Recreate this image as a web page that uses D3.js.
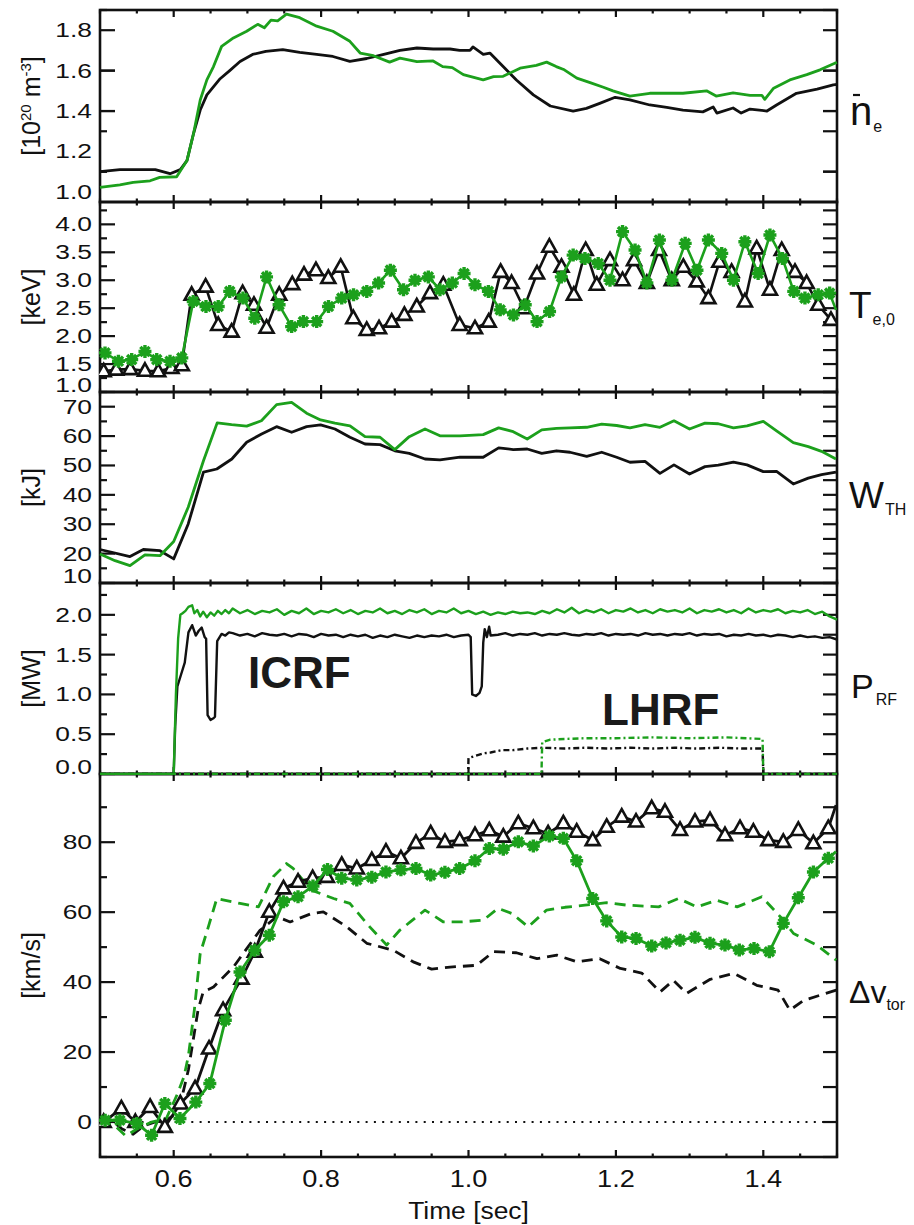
<!DOCTYPE html>
<html>
<head>
<meta charset="utf-8">
<script src="https://cdn.jsdelivr.net/npm/d3@7"></script>
<style>
  body { margin: 0; background: #fff; }
  svg { display: block; }
  text { font-family: "Liberation Sans", Arial, sans-serif; fill: #111; }
</style>
</head>
<body>
<div id="graf"></div>
<script>
// ---- Datos (tiempo [s], valor) ----
const neBlack = [[0.500,1.10],[0.527,1.11],[0.550,1.11],[0.575,1.11],[0.595,1.09],[0.609,1.11],[0.618,1.155],[0.627,1.29],[0.636,1.405],[0.645,1.48],[0.663,1.56],[0.676,1.60],[0.690,1.645],[0.707,1.68],[0.725,1.695],[0.748,1.704],[0.771,1.69],[0.794,1.68],[0.816,1.67],[0.839,1.646],[0.862,1.66],[0.885,1.68],[0.907,1.70],[0.930,1.712],[0.952,1.707],[0.975,1.707],[0.988,1.70],[1.002,1.70],[1.006,1.717],[1.020,1.68],[1.029,1.687],[1.047,1.62],[1.065,1.554],[1.088,1.48],[1.111,1.425],[1.142,1.40],[1.160,1.413],[1.178,1.438],[1.199,1.468],[1.219,1.455],[1.246,1.43],[1.269,1.418],[1.291,1.405],[1.318,1.396],[1.332,1.42],[1.337,1.39],[1.359,1.415],[1.370,1.39],[1.382,1.41],[1.405,1.40],[1.418,1.43],[1.445,1.488],[1.473,1.508],[1.495,1.53],[1.500,1.532]];
const neGreen = [[0.500,1.022],[0.527,1.035],[0.545,1.047],[0.568,1.055],[0.581,1.072],[0.604,1.075],[0.618,1.155],[0.627,1.29],[0.636,1.455],[0.645,1.554],[0.654,1.62],[0.665,1.72],[0.681,1.762],[0.699,1.795],[0.714,1.829],[0.723,1.812],[0.732,1.85],[0.741,1.846],[0.753,1.88],[0.771,1.862],[0.794,1.82],[0.816,1.795],[0.839,1.745],[0.853,1.687],[0.871,1.674],[0.893,1.642],[0.907,1.662],[0.930,1.645],[0.952,1.648],[0.965,1.62],[0.978,1.615],[0.993,1.58],[1.020,1.554],[1.034,1.57],[1.047,1.572],[1.070,1.612],[1.092,1.626],[1.106,1.642],[1.119,1.62],[1.130,1.604],[1.147,1.563],[1.165,1.541],[1.183,1.518],[1.196,1.50],[1.219,1.474],[1.246,1.488],[1.291,1.488],[1.323,1.50],[1.336,1.474],[1.359,1.49],[1.382,1.478],[1.398,1.478],[1.402,1.458],[1.414,1.513],[1.436,1.554],[1.459,1.58],[1.477,1.604],[1.497,1.637],[1.500,1.64]];

const teBlack = [[0.505,1.37],[0.522,1.40],[0.541,1.41],[0.561,1.38],[0.579,1.37],[0.597,1.43],[0.611,1.48],[0.6244,2.74],[0.6433,2.886],[0.6604,2.20],[0.6786,2.08],[0.6935,2.77],[0.7089,2.56],[0.726,2.15],[0.7432,2.74],[0.7609,2.93],[0.7768,3.10],[0.793,3.18],[0.8098,3.04],[0.8266,3.24],[0.8437,2.32],[0.8619,2.11],[0.8786,2.14],[0.8958,2.26],[0.913,2.38],[0.9298,2.53],[0.9478,2.77],[0.9658,2.92],[0.988,2.20],[1.0088,2.14],[1.0274,2.26],[1.0436,3.15],[1.0585,2.95],[1.075,2.50],[1.093,3.12],[1.1097,3.60],[1.1262,3.24],[1.143,2.74],[1.159,3.54],[1.174,2.92],[1.192,3.36],[1.209,3.0],[1.2246,3.36],[1.242,2.95],[1.2585,3.54],[1.2758,3.0],[1.2915,3.24],[1.3097,2.98],[1.3255,2.68],[1.3404,3.33],[1.357,3.15],[1.375,2.62],[1.391,3.57],[1.409,2.83],[1.425,3.54],[1.443,3.15],[1.4588,2.95],[1.4745,2.56],[1.4918,2.29]];
const teGreen = [[0.5068,1.70],[0.525,1.55],[0.543,1.58],[0.561,1.725],[0.577,1.58],[0.595,1.55],[0.611,1.61],[0.6265,2.62],[0.6438,2.53],[0.6604,2.53],[0.676,2.80],[0.694,2.68],[0.710,2.32],[0.726,3.06],[0.743,2.56],[0.760,2.17],[0.776,2.26],[0.794,2.26],[0.810,2.53],[0.828,2.68],[0.844,2.74],[0.862,2.80],[0.878,2.95],[0.894,3.18],[0.9118,2.83],[0.9274,3.0],[0.9455,3.06],[0.9613,2.83],[0.978,2.95],[0.994,3.12],[1.0088,2.92],[1.027,2.80],[1.043,2.47],[1.061,2.38],[1.077,2.56],[1.093,2.26],[1.110,2.44],[1.126,3.06],[1.142,3.45],[1.158,3.39],[1.176,3.30],[1.192,3.0],[1.209,3.87],[1.226,3.54],[1.242,2.95],[1.259,3.72],[1.276,3.0],[1.294,3.66],[1.310,3.18],[1.3255,3.72],[1.3436,3.48],[1.3595,3.0],[1.375,3.69],[1.393,3.12],[1.409,3.81],[1.426,3.39],[1.4413,2.80],[1.4565,2.68],[1.4745,2.74],[1.490,2.77],[1.4986,2.47]];

const wBlack = [[0.5,21.4],[0.5407,19.0],[0.5588,21.4],[0.5814,21.0],[0.600,18.2],[0.6197,30.1],[0.6404,47.7],[0.6585,48.8],[0.6789,52.2],[0.699,57.9],[0.7193,60.7],[0.7396,63.2],[0.760,61.3],[0.7803,63.2],[0.7993,63.8],[0.8188,62.4],[0.8392,59.6],[0.8596,57.3],[0.880,57.1],[0.900,55.0],[0.9196,54.1],[0.941,52.2],[0.9613,51.9],[0.9885,52.8],[1.0199,52.8],[1.0409,56.0],[1.0607,55.4],[1.0797,55.6],[1.0994,54.1],[1.1194,55.0],[1.1377,54.5],[1.1604,53.1],[1.1807,54.5],[1.201,52.8],[1.2191,51.1],[1.2395,51.4],[1.2598,47.3],[1.2788,50.2],[1.2999,47.1],[1.3209,49.6],[1.3389,50.1],[1.3595,51.1],[1.3779,50.2],[1.400,47.9],[1.418,48.0],[1.4407,43.7],[1.461,45.7],[1.479,46.9],[1.4986,47.7]];
const wGreen = [[0.5,19.9],[0.5204,17.6],[0.5407,15.9],[0.561,19.6],[0.5814,19.3],[0.600,24.1],[0.6197,35.8],[0.6404,51.6],[0.659,64.5],[0.6786,63.9],[0.699,63.4],[0.719,65.2],[0.7396,70.7],[0.760,71.5],[0.7803,67.8],[0.7993,65.5],[0.8188,64.4],[0.8392,63.5],[0.8596,59.8],[0.880,59.6],[0.900,55.4],[0.9196,59.8],[0.941,62.4],[0.9613,60.1],[0.9885,60.1],[1.0199,60.5],[1.0409,62.8],[1.0607,61.5],[1.0797,59.0],[1.0994,62.1],[1.1194,62.6],[1.1377,62.8],[1.1604,63.0],[1.1807,64.1],[1.201,63.6],[1.2191,62.8],[1.2395,63.9],[1.2598,63.0],[1.2788,65.2],[1.2999,62.4],[1.3209,64.4],[1.3389,64.2],[1.3595,62.8],[1.3779,63.5],[1.400,65.0],[1.418,61.8],[1.4407,57.8],[1.461,56.4],[1.479,54.8],[1.4986,52.2]];

const icrfBlack = [[0.5,0],[0.600,0],[0.602,0.6],[0.605,1.1],[0.610,1.25],[0.615,1.40],[0.620,1.78],[0.625,1.87],[0.630,1.74],[0.634,1.80],[0.638,1.84],[0.642,1.72],[0.644,1.70],[0.646,0.74],[0.650,0.68],[0.654,0.70],[0.656,0.72],[0.659,1.67],[0.665,1.76],[0.670,1.74],[0.675,1.78],
  [0.68,1.77],[0.69,1.74],[0.70,1.76],[0.71,1.73],[0.72,1.77],[0.73,1.75],[0.74,1.74],[0.75,1.76],[0.76,1.73],[0.77,1.76],[0.78,1.75],[0.79,1.72],[0.80,1.76],[0.81,1.74],[0.82,1.75],[0.83,1.72],[0.84,1.75],[0.85,1.73],[0.86,1.75],[0.87,1.71],[0.88,1.74],[0.89,1.72],[0.90,1.75],[0.91,1.73],[0.92,1.71],[0.93,1.74],[0.94,1.72],[0.95,1.74],[0.96,1.73],[0.97,1.75],[0.98,1.72],[0.99,1.74],
  [1.000,1.75],[1.003,1.72],[1.005,1.00],[1.010,0.98],[1.015,1.02],[1.018,1.10],[1.020,1.65],[1.022,1.82],[1.025,1.72],[1.028,1.85],[1.030,1.74],
  [1.04,1.75],[1.05,1.77],[1.06,1.74],[1.07,1.76],[1.08,1.75],[1.09,1.77],[1.10,1.74],[1.11,1.76],[1.12,1.75],[1.13,1.77],[1.14,1.75],[1.15,1.74],[1.16,1.76],[1.17,1.75],[1.18,1.77],[1.19,1.74],[1.20,1.76],[1.21,1.75],[1.22,1.76],[1.23,1.74],[1.24,1.77],[1.25,1.75],[1.26,1.76],[1.27,1.74],[1.28,1.76],[1.29,1.75],[1.30,1.77],[1.31,1.74],[1.32,1.76],[1.33,1.75],[1.34,1.76],[1.35,1.73],[1.36,1.75],[1.37,1.74],[1.38,1.76],[1.39,1.74],[1.40,1.75],[1.41,1.73],[1.42,1.75],[1.43,1.74],[1.44,1.72],[1.45,1.74],[1.46,1.72],[1.47,1.73],[1.48,1.71],[1.49,1.72],[1.50,1.69]];
const icrfGreen = [[0.5,0],[0.600,0],[0.603,1.0],[0.606,1.7],[0.609,2.0],[0.612,2.02],[0.616,2.05],[0.620,2.10],[0.625,2.12],[0.628,2.02],[0.632,2.06],[0.636,1.98],[0.640,2.04],[0.645,1.97],[0.650,2.03],[0.655,1.99],[0.660,2.05],[0.665,2.01],[0.670,2.06],[0.675,2.02],
  [0.68,2.08],[0.69,2.02],[0.70,2.06],[0.71,2.01],[0.72,2.05],[0.73,2.03],[0.74,2.07],[0.75,2.00],[0.76,2.05],[0.77,2.02],[0.78,2.08],[0.79,2.01],[0.80,2.05],[0.81,2.03],[0.82,2.07],[0.83,2.02],[0.84,2.06],[0.85,2.01],[0.86,2.05],[0.87,2.03],[0.88,2.08],[0.89,2.02],[0.90,2.05],[0.91,2.01],[0.92,2.06],[0.93,2.03],[0.94,2.07],[0.95,2.01],[0.96,2.05],[0.97,2.03],[0.98,2.08],[0.99,2.02],
  [1.00,2.05],[1.01,2.01],[1.02,2.04],[1.03,2.00],[1.04,2.03],[1.05,2.01],[1.06,2.04],[1.07,2.02],[1.08,2.03],[1.09,2.01],[1.10,2.05],[1.11,2.02],[1.12,2.07],[1.13,2.03],[1.14,2.09],[1.15,2.02],[1.16,2.06],[1.17,2.03],[1.18,2.07],[1.19,2.02],[1.20,2.06],[1.21,2.04],[1.22,2.08],[1.23,2.03],[1.24,2.06],[1.25,2.02],[1.26,2.07],[1.27,2.04],[1.28,2.06],[1.29,2.03],[1.30,2.08],[1.31,2.02],[1.32,2.06],[1.33,2.04],[1.34,2.07],[1.35,2.03],[1.36,2.06],[1.37,2.02],[1.38,2.08],[1.39,2.03],[1.40,2.06],[1.41,2.04],[1.42,2.07],[1.43,2.02],[1.44,2.05],[1.45,2.03],[1.46,2.06],[1.47,2.01],[1.48,2.04],[1.49,1.98],[1.50,1.94]];
const lhrfBlack = [[0.5,0],[0.9995,0],[1.000,0.20],[1.01,0.23],[1.02,0.26],[1.03,0.27],[1.045,0.30],[1.06,0.30],[1.08,0.32],[1.10,0.33],[1.13,0.32],[1.16,0.33],[1.19,0.32],[1.22,0.33],[1.25,0.32],[1.28,0.33],[1.31,0.32],[1.34,0.33],[1.37,0.32],[1.399,0.32],[1.400,0],[1.5,0]];
const lhrfGreen = [[0.5,0],[1.099,0],[1.100,0.40],[1.11,0.43],[1.13,0.44],[1.16,0.45],[1.20,0.45],[1.25,0.46],[1.30,0.45],[1.35,0.46],[1.399,0.44],[1.400,0],[1.5,0]];

const vBlack = [[0.505,0],[0.529,3.9],[0.548,0],[0.568,4.3],[0.588,-1.4],[0.609,5.3],[0.629,9.6],[0.648,21.0],[0.667,32.0],[0.692,41.0],[0.710,48.7],[0.7297,60.1],[0.749,66.8],[0.7687,68.7],[0.7885,69.7],[0.8078,70.1],[0.828,73.5],[0.8484,72.5],[0.8688,74.9],[0.888,77.3],[0.9083,75.4],[0.9287,79.8],[0.9487,82.5],[0.968,80.1],[0.988,80.6],[1.0088,82.0],[1.0282,83.4],[1.0472,81.6],[1.0676,85.4],[1.088,84.0],[1.108,82.5],[1.1287,85.4],[1.1468,83.0],[1.1685,80.6],[1.1875,84.4],[1.2079,87.3],[1.2273,85.9],[1.2486,89.7],[1.2666,88.7],[1.287,83.5],[1.3073,85.9],[1.3277,86.3],[1.348,82.0],[1.3684,84.0],[1.3865,83.0],[1.4068,80.6],[1.4271,80.1],[1.4475,83.5],[1.4679,79.7],[1.4882,84.0],[1.4986,90.6]];
const vGreen = [[0.507,0.5],[0.527,0.5],[0.550,-0.4],[0.570,-3.8],[0.588,5.3],[0.6085,1.0],[0.630,5.7],[0.649,11.0],[0.670,29.1],[0.690,42.9],[0.710,49.1],[0.7297,53.4],[0.749,63.0],[0.7687,64.4],[0.789,67.5],[0.8087,72.2],[0.828,69.7],[0.8484,69.2],[0.8688,70.0],[0.888,71.5],[0.9083,72.1],[0.9287,72.5],[0.9487,70.6],[0.968,71.4],[0.988,72.5],[1.0088,74.7],[1.0282,78.2],[1.0472,78.0],[1.0676,80.1],[1.088,78.9],[1.1097,81.8],[1.1287,81.1],[1.1468,74.7],[1.1685,63.9],[1.1875,57.5],[1.2079,52.9],[1.2273,52.5],[1.2486,50.3],[1.268,51.2],[1.287,52.0],[1.3073,52.8],[1.3277,51.1],[1.348,50.6],[1.3674,49.2],[1.3874,49.6],[1.4082,48.7],[1.4271,56.8],[1.4475,64.1],[1.468,71.5],[1.4882,75.4],[1.4986,77.3]];
const vBlackDash = [[0.5,0],[0.515,0.5],[0.530,-2],[0.545,-3.5],[0.560,-1],[0.575,0],[0.590,0.5],[0.600,2],[0.610,6],[0.620,15],[0.633,32],[0.640,37.2],[0.654,38.6],[0.681,44.3],[0.717,54.8],[0.740,58.7],[0.758,57.2],[0.787,59.6],[0.803,60.1],[0.835,55.8],[0.862,51.1],[0.898,49.1],[0.925,45.8],[0.950,43.7],[0.975,44.3],[1.011,44.8],[1.034,48.7],[1.065,48.4],[1.093,46.7],[1.120,47.7],[1.147,45.8],[1.178,46.7],[1.206,43.9],[1.235,42.6],[1.260,37.2],[1.278,40.5],[1.296,36.8],[1.328,40.8],[1.360,42.5],[1.391,39.1],[1.420,37.7],[1.436,32.0],[1.455,34.8],[1.499,37.7]];
const vGreenDash = [[0.5,0],[0.520,-1],[0.535,-4],[0.550,-2],[0.570,0],[0.590,1],[0.605,8],[0.614,13],[0.620,19],[0.628,32],[0.636,48.2],[0.647,55.8],[0.6585,63.9],[0.690,62.5],[0.715,61.5],[0.735,70.1],[0.753,73.9],[0.762,72.5],[0.787,66.3],[0.817,63.9],[0.839,62.5],[0.866,55.8],[0.889,50.6],[0.907,54.9],[0.921,57.2],[0.941,60.6],[0.966,57.2],[0.989,57.2],[1.020,57.7],[1.040,61.1],[1.059,59.6],[1.081,55.8],[1.106,60.6],[1.131,61.4],[1.158,62.0],[1.1875,62.7],[1.215,62.0],[1.258,61.5],[1.285,63.9],[1.310,61.5],[1.337,63.4],[1.3645,61.5],[1.398,64.4],[1.423,58.7],[1.441,53.9],[1.4725,50.6],[1.499,46.3]];

// Ejes / etiquetas
const xTickLabels = [0.6, 0.8, 1.0, 1.2, 1.4];
const neTicks = [1.0, 1.2, 1.4, 1.6, 1.8];
const teTicks = [1.0, 1.5, 2.0, 2.5, 3.0, 3.5, 4.0];
const wTicks = [10, 20, 30, 40, 50, 60, 70];
const pTicks = [0.0, 0.5, 1.0, 1.5, 2.0];
const vTicks = [0, 20, 40, 60, 80];

// ---- Dimensiones ----
const ancho = 914, alto = 1225;
const xIzq = 100, xDer = 837;
const VERDE = "#1ca01c";

const svg = d3.select("#graf").append("svg").attr("width", ancho).attr("height", alto);
const x = d3.scaleLinear().domain([0.5, 1.5]).range([xIzq, xDer]);

const paneles = [
  { top: 10,  bottom: 202, domain: [0.95, 1.9], ticks: neTicks, minor: 0.1,  fmt: d3.format(".1f"), title: "ne" },
  { top: 202, bottom: 392, domain: [1.0, 4.4],  ticks: teTicks, minor: 0.25, fmt: d3.format(".1f"), title: "keV" },
  { top: 392, bottom: 583, domain: [10, 75],    ticks: wTicks,  minor: 5,    fmt: d3.format("d"),   title: "kJ" },
  { top: 583, bottom: 774, domain: [0, 2.4],    ticks: pTicks,  minor: 0.25, fmt: d3.format(".1f"), title: "MW" },
  { top: 774, bottom: 1157,domain: [-10, 99.5], ticks: vTicks,  minor: 10,   fmt: d3.format("d"),   title: "km/s" },
];
paneles.forEach(p => { p.y = d3.scaleLinear().domain(p.domain).range([p.bottom, p.top]); });

const defs = svg.append("defs");
paneles.forEach((p, i) => {
  defs.append("clipPath").attr("id", "clip" + i)
    .append("rect").attr("x", xIzq - 1).attr("y", p.top - 1)
    .attr("width", xDer - xIzq + 2).attr("height", p.bottom - p.top + 2);
});

const ejes = svg.append("g").attr("stroke", "#111").attr("stroke-width", 2.2).attr("fill", "none");
const etiquetas = svg.append("g");

// texto estirado en horizontal (como la fuente original)
function texto(g, tx, ty, str, size, sx, anchor) {
  return g.append("text")
    .attr("transform", `translate(${tx},${ty}) scale(${sx},1)`)
    .attr("text-anchor", anchor)
    .style("font-size", size + "px")
    .text(str);
}

paneles.forEach((p, i) => {
  ejes.append("rect").attr("x", xIzq).attr("y", p.top)
    .attr("width", xDer - xIzq).attr("height", p.bottom - p.top).attr("stroke-width", 2.6);

  // ticks menores y mayores en Y
  const menores = d3.range(p.domain[0], p.domain[1] + 1e-9, p.minor)
    .map(v => Math.round(v / p.minor) * p.minor)
    .filter(v => v >= p.domain[0] - 1e-9 && v <= p.domain[1] + 1e-9);
  menores.forEach(v => {
    const yy = p.y(v);
    const mayor = p.ticks.some(t => Math.abs(t - v) < 1e-6);
    ejes.append("line").attr("x1", xIzq).attr("x2", xIzq + (mayor ? 15 : 7)).attr("y1", yy).attr("y2", yy);
    ejes.append("line").attr("x1", xDer).attr("x2", xDer - 14).attr("y1", yy).attr("y2", yy);
  });
  p.ticks.forEach(v => {
    let yy = p.y(v);
    if (yy > p.bottom - 7) yy = p.bottom - 7;
    texto(etiquetas, 92, yy + 7, p.fmt(v), 20, 1.32, "end");
  });

  // ticks en X (arriba y abajo)
  d3.range(0.5, 1.5001, 0.05).forEach(t => {
    const xx = x(t);
    const mayor = Math.abs(Math.round(t * 10) / 10 - t) < 1e-6 && Math.round(t * 10) % 2 === 0;
    const l = mayor ? 7 : 3.5;
    ejes.append("line").attr("x1", xx).attr("x2", xx).attr("y1", p.bottom).attr("y2", p.bottom - l);
    ejes.append("line").attr("x1", xx).attr("x2", xx).attr("y1", p.top).attr("y2", p.top + l);
  });
});

// etiquetas del eje X (panel inferior)
const pb = paneles[4];
xTickLabels.forEach(t => texto(etiquetas, x(t), pb.bottom + 30, d3.format(".1f")(t), 23, 1.18, "middle"));
texto(etiquetas, (xIzq + xDer) / 2, 1219, "Time [sec]", 24, 1.1, "middle");

// titulos del eje Y (rotados)
function tituloY(p, build) {
  const t = etiquetas.append("text")
    .attr("transform", `translate(40,${(p.top + p.bottom) / 2}) rotate(-90)`)
    .attr("text-anchor", "middle").style("font-size", "25px");
  build(t);
}
tituloY(paneles[0], t => {
  t.append("tspan").text("[10");
  t.append("tspan").attr("dy", -9).style("font-size", "15px").text("20");
  t.append("tspan").attr("dy", 9).text(" m");
  t.append("tspan").attr("dy", -9).style("font-size", "15px").text("-3");
  t.append("tspan").attr("dy", 9).text("]");
});
[1, 2, 3, 4].forEach(i => tituloY(paneles[i], t => t.text("[" + paneles[i].title + "]")));

// etiquetas a la derecha
function etiquetaDer(xx, yy, main, sub, subDx, size) {
  const t = etiquetas.append("text").attr("x", xx).attr("y", yy).style("font-size", size + "px");
  t.append("tspan").text(main);
  t.append("tspan").attr("dy", 7).attr("dx", subDx).style("font-size", "16px").text(sub);
}
etiquetaDer(850, 125, "n", "e", 1, 40);
ejes.append("line").attr("x1", 853).attr("x2", 860).attr("y1", 95).attr("y2", 95).attr("stroke-width", 2.2);
etiquetaDer(849, 318, "T", "e,0", 1, 37);
etiquetaDer(849, 508, "W", "TH", 1, 37);
etiquetaDer(851, 698, "P", "RF", 2, 34);
etiquetaDer(849, 1003, "\u0394v", "tor", 0, 32);

// textos ICRF / LHRF
svg.append("text").attr("x", 248).attr("y", 688).style("font-size", "44px").style("font-weight", "bold").style("fill", "#1a1a1a").text("ICRF");
svg.append("text").attr("x", 602).attr("y", 725).style("font-size", "44px").style("font-weight", "bold").style("fill", "#1a1a1a").text("LHRF");

// ---- Series ----
function serie(i, datos, color, opts = {}) {
  const p = paneles[i];
  const linea = d3.line().x(d => x(d[0])).y(d => p.y(d[1]));
  const g = svg.append("g").attr("clip-path", `url(#clip${i})`);
  g.append("path").datum(datos).attr("d", linea)
    .attr("fill", "none").attr("stroke", color)
    .attr("stroke-width", opts.width || 2.8)
    .attr("stroke-linejoin", "round")
    .attr("stroke-dasharray", opts.dash || null);
  if (opts.marker) {
    const marcas = datos.filter(d => d[0] < 1.495);
    if (opts.marker === "tri") {
      g.selectAll(null).data(marcas).enter().append("path")
        .attr("d", "M0,-7.5L7,5L-7,5Z")
        .attr("transform", d => `translate(${x(d[0])},${p.y(d[1])})`)
        .attr("fill", "#fff").attr("stroke", color).attr("stroke-width", 2.6)
        .attr("stroke-linejoin", "miter");
    } else {
      g.selectAll(null).data(marcas).enter().append("path")
        .attr("d", "M-6.5,0H6.5M0,-6.5V6.5M-4.6,-4.6L4.6,4.6M-4.6,4.6L4.6,-4.6")
        .attr("transform", d => `translate(${x(d[0])},${p.y(d[1])})`)
        .attr("fill", "none").attr("stroke", color).attr("stroke-width", 3.4);
    }
  }
}

serie(0, neBlack, "#111");
serie(0, neGreen, VERDE);
serie(1, teBlack, "#111", { marker: "tri", width: 2.6 });
serie(1, teGreen, VERDE, { marker: "star", width: 2.6 });
serie(2, wBlack, "#111");
serie(2, wGreen, VERDE);
serie(3, icrfBlack, "#111", { width: 2.4 });
serie(3, icrfGreen, VERDE, { width: 2.4 });
serie(3, lhrfBlack, "#111", { width: 2.4, dash: "6,3,2,3" });
serie(3, lhrfGreen, VERDE, { width: 2.4, dash: "6,3,2,3" });

// linea de cero punteada
svg.append("line").attr("x1", xIzq).attr("x2", xDer)
  .attr("y1", paneles[4].y(0)).attr("y2", paneles[4].y(0))
  .attr("stroke", "#111").attr("stroke-width", 2).attr("stroke-dasharray", "2,6.3");
serie(4, vBlackDash, "#111", { dash: "11,7" });
serie(4, vGreenDash, VERDE, { dash: "11,7" });
serie(4, vBlack, "#111", { marker: "tri" });
serie(4, vGreen, VERDE, { marker: "star" });
</script>
</body>
</html>
